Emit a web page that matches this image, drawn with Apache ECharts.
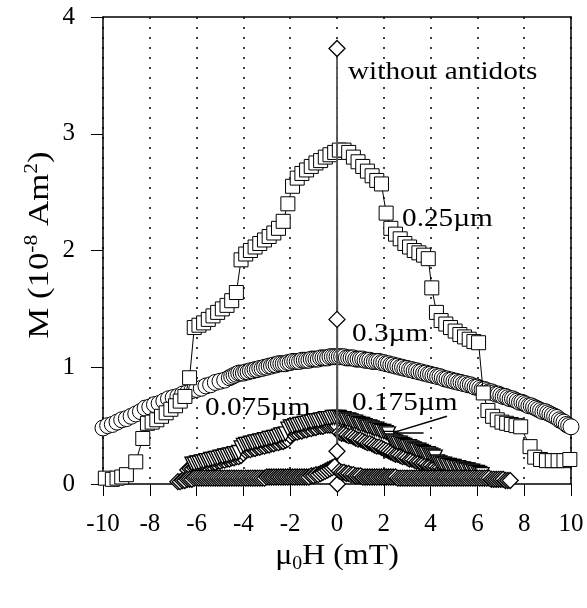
<!DOCTYPE html>
<html>
<head>
<meta charset="utf-8">
<script src="https://cdn.jsdelivr.net/npm/echarts@6/dist/echarts.min.js"></script>
<style>
  html, body { margin: 0; padding: 0; background: #fff; }
  #chart { width: 587px; height: 608px; }
</style>
</head>
<body>
<div id="chart"></div>
<script>
// field ticks / moment ticks
const xTicks = [-10, -8, -6, -4, -2, 0, 2, 4, 6, 8, 10];
const yTicks = [0, 1, 2, 3, 4];

// 0.25 um antidots (open squares)
const sq025 = [
  [-9.9,0.05],[-9.6,0.04],[-9.4,0.05],[-9.2,0.06],[-9.0,0.08],[-8.6,0.19],[-8.3,0.39],[-8.1,0.52],
  [-7.9,0.53],[-7.7,0.55],[-7.5,0.58],[-7.3,0.61],[-7.1,0.64],[-6.9,0.67],[-6.7,0.71],[-6.5,0.75],
  [-6.3,0.91],[-6.1,1.34],[-5.9,1.36],[-5.7,1.38],[-5.5,1.41],[-5.3,1.44],[-5.1,1.47],[-4.9,1.50],
  [-4.7,1.53],[-4.5,1.57],[-4.3,1.64],[-4.1,1.92],[-3.9,1.97],[-3.7,2.00],[-3.5,2.03],[-3.3,2.06],
  [-3.1,2.09],[-2.9,2.12],[-2.7,2.15],[-2.5,2.19],[-2.3,2.25],[-2.1,2.40],[-1.9,2.55],[-1.7,2.62],
  [-1.5,2.66],[-1.3,2.69],[-1.1,2.72],[-0.9,2.75],[-0.7,2.77],[-0.5,2.80],[-0.3,2.82],[-0.1,2.84],
  [0.1,2.86],[0.3,2.86],[0.5,2.84],[0.7,2.80],[0.9,2.76],[1.1,2.72],[1.3,2.68],[1.5,2.64],
  [1.7,2.60],[1.9,2.57],[2.1,2.32],[2.3,2.19],[2.5,2.14],[2.7,2.10],[2.9,2.06],[3.1,2.03],
  [3.3,2.00],[3.5,1.98],[3.7,1.96],[3.9,1.93],[4.05,1.68],[4.25,1.47],[4.45,1.40],[4.65,1.37],
  [4.85,1.34],[5.05,1.31],[5.25,1.28],[5.45,1.26],[5.65,1.24],[5.85,1.22],[6.05,1.21],[6.25,0.78],
  [6.45,0.63],[6.65,0.58],[6.85,0.55],[7.05,0.53],[7.25,0.52],[7.45,0.51],[7.65,0.50],[7.85,0.49],
  [8.25,0.32],[8.45,0.23],[8.7,0.21],[8.95,0.20],[9.2,0.20],[9.45,0.20],[9.7,0.20],[9.95,0.21]
];

// 0.3 um antidots (open circles)
const ci03 = [
  [-10.0,0.48],[-9.8,0.50],[-9.6,0.51],[-9.4,0.53],[-9.2,0.55],[-9.0,0.56],[-8.8,0.58],[-8.6,0.60],
  [-8.4,0.62],[-8.2,0.65],[-8.0,0.66],[-7.8,0.68],[-7.6,0.69],[-7.4,0.71],[-7.2,0.73],[-7.0,0.74],
  [-6.8,0.75],[-6.6,0.77],[-6.4,0.78],[-6.2,0.80],[-6.0,0.81],[-5.8,0.82],[-5.6,0.84],[-5.4,0.85],
  [-5.2,0.87],[-5.0,0.88],[-4.8,0.89],
  [-4.6,0.91],[-4.5,0.92],[-4.4,0.93],[-4.3,0.94],[-4.2,0.95],[-4.1,0.95],[-4.0,0.95],[-3.9,0.96],
  [-3.8,0.96],[-3.7,0.97],[-3.6,0.97],[-3.5,0.98],[-3.4,0.98],[-3.3,0.99],[-3.2,0.99],[-3.1,1.00],
  [-3.0,1.00],[-2.9,1.01],[-2.8,1.01],[-2.7,1.02],[-2.6,1.02],[-2.5,1.03],[-2.4,1.03],[-2.3,1.03],
  [-2.2,1.03],[-2.1,1.04],[-2.0,1.04],[-1.9,1.05],[-1.8,1.05],[-1.7,1.05],[-1.6,1.05],[-1.5,1.06],
  [-1.4,1.06],[-1.3,1.06],[-1.2,1.06],[-1.1,1.07],[-1.0,1.07],[-0.9,1.07],[-0.8,1.07],[-0.7,1.08],
  [-0.6,1.08],[-0.5,1.08],[-0.4,1.08],[-0.3,1.09],[-0.2,1.09],[-0.1,1.09],
  [0.0,1.09],[0.1,1.09],[0.2,1.09],[0.3,1.09],[0.4,1.08],[0.5,1.08],[0.6,1.08],[0.7,1.08],
  [0.8,1.07],[0.9,1.07],[1.0,1.07],[1.1,1.07],[1.2,1.06],[1.3,1.06],[1.4,1.06],[1.5,1.05],
  [1.6,1.05],[1.7,1.05],[1.8,1.05],[1.9,1.04],[2.0,1.04],[2.1,1.03],[2.2,1.03],[2.3,1.02],
  [2.4,1.02],[2.5,1.01],[2.6,1.01],[2.7,1.00],[2.8,1.00],[2.9,0.99],[3.0,0.99],[3.1,0.98],
  [3.2,0.98],[3.3,0.97],[3.4,0.97],[3.5,0.96],[3.6,0.96],[3.7,0.95],[3.8,0.95],[3.9,0.94],
  [4.0,0.94],[4.1,0.93],[4.2,0.93],[4.3,0.92],[4.4,0.92],[4.5,0.91],[4.6,0.90],[4.7,0.90],
  [4.8,0.89],[4.9,0.89],[5.0,0.88],[5.1,0.88],[5.2,0.87],[5.3,0.87],[5.4,0.86],[5.5,0.86],
  [5.6,0.85],[5.7,0.85],[5.8,0.84],[5.9,0.83],[6.0,0.83],[6.1,0.82],[6.2,0.81],[6.3,0.81],
  [6.4,0.80],[6.5,0.79],[6.6,0.79],[6.7,0.78],[6.8,0.77],[6.9,0.77],[7.0,0.76],[7.1,0.75],
  [7.2,0.75],[7.3,0.74],[7.4,0.73],[7.5,0.73],[7.6,0.72],[7.7,0.71],[7.8,0.70],[7.9,0.70],
  [8.0,0.69],[8.1,0.68],[8.2,0.67],[8.3,0.67],[8.4,0.66],[8.5,0.65],[8.6,0.64],[8.7,0.63],
  [8.8,0.62],[8.9,0.62],[9.0,0.61],[9.1,0.60],[9.2,0.59],[9.3,0.58],[9.4,0.57],[9.5,0.55],
  [9.6,0.54],[9.7,0.53],[9.8,0.51],[9.9,0.50],[10.0,0.49]
];

// 0.075 um antidots (down triangles)
const tr075 = [
  [-6.2,0.17],[-6.1,0.17],[-6.0,0.18],[-5.9,0.18],[-5.8,0.19],[-5.7,0.19],[-5.6,0.20],[-5.5,0.20],
  [-5.4,0.21],[-5.3,0.21],[-5.2,0.22],[-5.1,0.22],[-5.0,0.23],[-4.9,0.23],[-4.8,0.24],[-4.7,0.24],
  [-4.6,0.25],[-4.5,0.25],[-4.4,0.26],[-4.3,0.26],[-4.2,0.27],[-4.1,0.31],[-4.0,0.33],[-3.9,0.34],
  [-3.8,0.34],[-3.7,0.35],[-3.6,0.35],[-3.5,0.36],[-3.4,0.36],[-3.3,0.37],[-3.2,0.37],[-3.1,0.38],
  [-3.0,0.38],[-2.9,0.39],[-2.8,0.39],[-2.7,0.40],[-2.6,0.40],[-2.5,0.41],[-2.4,0.42],[-2.3,0.42],
  [-2.2,0.43],[-2.1,0.47],[-2.0,0.49],[-1.9,0.49],[-1.8,0.50],[-1.7,0.50],[-1.6,0.51],[-1.5,0.51],
  [-1.4,0.52],[-1.3,0.52],[-1.2,0.53],[-1.1,0.53],[-1.0,0.54],[-0.9,0.54],[-0.8,0.54],[-0.7,0.55],
  [-0.6,0.55],[-0.5,0.56],[-0.4,0.56],[-0.3,0.56],[-0.2,0.57],[-0.1,0.57],[0.0,0.57],[0.1,0.57],
  [0.2,0.56],[0.3,0.56],[0.4,0.55],[0.5,0.55],[0.6,0.54],[0.7,0.53],[0.8,0.53],[0.9,0.52],
  [1.0,0.51],[1.1,0.51],[1.2,0.50],[1.3,0.49],[1.4,0.49],[1.5,0.48],[1.6,0.47],[1.7,0.47],
  [1.8,0.46],[1.9,0.45],[2.0,0.45],[2.1,0.44],[2.2,0.43],[2.3,0.39],[2.4,0.37],[2.5,0.36],
  [2.6,0.35],[2.7,0.35],[2.8,0.34],[2.9,0.33],[3.0,0.32],[3.1,0.32],[3.2,0.31],[3.3,0.30],
  [3.4,0.29],[3.5,0.29],[3.6,0.28],[3.7,0.27],[3.8,0.26],[3.9,0.26],[4.0,0.25],[4.1,0.24],
  [4.2,0.23],[4.3,0.19],[4.4,0.18],[4.5,0.17],[4.6,0.17],[4.7,0.16],[4.8,0.16],[4.9,0.15],
  [5.0,0.15],[5.1,0.14],[5.2,0.14],[5.3,0.13],[5.4,0.13],[5.5,0.12],[5.6,0.12],[5.7,0.11],
  [5.8,0.11],[5.9,0.10],[6.0,0.10],[6.1,0.09],[6.2,0.08]
];

// 0.175 um antidots (diamonds)
const di175 = [
  [-6.4,0.12],[-6.3,0.13],[-6.2,0.13],[-6.1,0.14],[-6.0,0.14],[-5.9,0.15],[-5.8,0.15],[-5.7,0.16],
  [-5.6,0.16],[-5.5,0.17],[-5.4,0.17],[-5.3,0.18],[-5.2,0.18],[-5.1,0.19],[-5.0,0.19],[-4.9,0.20],
  [-4.8,0.20],[-4.7,0.21],[-4.6,0.21],[-4.5,0.22],[-4.4,0.22],[-4.3,0.23],[-4.2,0.23],[-4.1,0.24],
  [-4.0,0.26],[-3.9,0.28],[-3.8,0.29],[-3.7,0.29],[-3.6,0.30],[-3.5,0.30],[-3.4,0.31],[-3.3,0.31],
  [-3.2,0.32],[-3.1,0.32],[-3.0,0.33],[-2.9,0.33],[-2.8,0.34],[-2.7,0.34],[-2.6,0.35],[-2.5,0.35],
  [-2.4,0.36],[-2.3,0.36],[-2.2,0.37],[-2.1,0.38],[-2.0,0.41],[-1.9,0.43],[-1.8,0.44],[-1.7,0.44],
  [-1.6,0.45],[-1.5,0.45],[-1.4,0.46],[-1.3,0.46],[-1.2,0.47],[-1.1,0.47],[-1.0,0.48],[-0.9,0.48],
  [-0.8,0.49],[-0.7,0.49],[-0.6,0.49],[-0.5,0.50],[-0.4,0.50],[-0.3,0.50],[-0.2,0.50],[-0.1,0.50],
  [0.0,0.50],[0.1,0.44],[0.2,0.43],[0.3,0.43],[0.4,0.42],[0.5,0.41],[0.6,0.41],[0.7,0.40],
  [0.8,0.39],[0.9,0.38],[1.0,0.38],[1.1,0.37],[1.2,0.36],[1.3,0.35],[1.4,0.35],[1.5,0.34],
  [1.6,0.33],[1.7,0.32],[1.8,0.32],[1.9,0.31],[2.0,0.30],[2.1,0.29],[2.2,0.28],[2.3,0.27],
  [2.4,0.26],[2.5,0.25],[2.6,0.25],[2.7,0.24],[2.8,0.23],[2.9,0.23],[3.0,0.22],[3.1,0.21],
  [3.2,0.21],[3.3,0.20],[3.4,0.19],[3.5,0.19],[3.6,0.18],[3.7,0.18],[3.8,0.17],[3.9,0.16],
  [4.0,0.16],[4.1,0.15],[4.2,0.15],[4.3,0.14],[4.4,0.14],[4.5,0.13],[4.6,0.13],[4.7,0.12],
  [4.8,0.12],[4.9,0.11],[5.0,0.11],[5.1,0.10],[5.2,0.10],[5.3,0.09],[5.4,0.09],[5.5,0.08],
  [5.6,0.08],[5.7,0.07],[5.8,0.07],[5.9,0.06],[6.0,0.06],[6.1,0.06],[6.2,0.05],[6.3,0.05]
];

// without antidots (diamonds, sharp switching at 0)
const noDots = [
  [-6.8,0.02],[-6.7,0.02],[-6.6,0.03],[-6.5,0.03],[-6.4,0.04],[-6.3,0.04],[-6.2,0.04],[-6.1,0.05],
  [-6.0,0.05],[-5.9,0.05],[-5.8,0.05],[-5.7,0.05],[-5.6,0.05],[-5.5,0.05],[-5.4,0.05],[-5.3,0.05],
  [-5.2,0.05],[-5.1,0.05],[-5.0,0.05],[-4.9,0.05],[-4.8,0.05],[-4.7,0.05],[-4.6,0.05],[-4.5,0.05],
  [-4.4,0.05],[-4.3,0.05],[-4.2,0.05],[-4.1,0.05],[-4.0,0.05],[-3.9,0.05],[-3.8,0.05],[-3.7,0.05],
  [-3.6,0.05],[-3.5,0.05],[-3.4,0.05],[-3.3,0.05],[-3.2,0.05],[-3.1,0.05],[-3.0,0.06],[-2.9,0.06],
  [-2.8,0.06],[-2.7,0.06],[-2.6,0.06],[-2.5,0.06],[-2.4,0.06],[-2.3,0.06],[-2.2,0.06],[-2.1,0.06],
  [-2.0,0.06],[-1.9,0.06],[-1.8,0.06],[-1.7,0.06],[-1.6,0.06],[-1.5,0.06],[-1.4,0.06],[-1.3,0.06],
  [-1.2,0.06],[-1.1,0.07],[-1.0,0.07],[-0.9,0.08],[-0.8,0.08],[-0.7,0.09],[-0.6,0.10],[-0.5,0.11],
  [-0.4,0.12],[-0.3,0.13],[-0.2,0.14],[-0.1,0.15],[0.0,0.28],[0.0,1.41],[0.0,3.73],[0.02,0.0],
  [0.1,0.11],[0.2,0.10],[0.3,0.10],[0.4,0.09],[0.5,0.09],[0.6,0.08],[0.7,0.08],[0.8,0.07],
  [0.9,0.07],[1.0,0.07],[1.1,0.06],[1.2,0.06],[1.3,0.06],[1.4,0.06],[1.5,0.06],[1.6,0.06],
  [1.7,0.06],[1.8,0.06],[1.9,0.06],[2.0,0.06],[2.1,0.06],[2.2,0.06],[2.3,0.06],[2.4,0.06],
  [2.5,0.06],[2.6,0.05],[2.7,0.05],[2.8,0.05],[2.9,0.05],[3.0,0.05],[3.1,0.05],[3.2,0.05],
  [3.3,0.05],[3.4,0.05],[3.5,0.05],[3.6,0.05],[3.7,0.05],[3.8,0.05],[3.9,0.05],[4.0,0.05],
  [4.1,0.05],[4.2,0.05],[4.3,0.05],[4.4,0.05],[4.5,0.05],[4.6,0.05],[4.7,0.05],[4.8,0.05],
  [4.9,0.05],[5.0,0.05],[5.1,0.05],[5.2,0.05],[5.3,0.05],[5.4,0.05],[5.5,0.05],[5.6,0.05],
  [5.7,0.05],[5.8,0.05],[5.9,0.05],[6.0,0.05],[6.1,0.05],[6.2,0.05],[6.3,0.05],[6.4,0.05],
  [6.5,0.05],[6.6,0.04],[6.7,0.04],[6.8,0.04],[6.9,0.04],[7.0,0.04],[7.1,0.04],[7.2,0.03],
  [7.3,0.03],[7.4,0.03]
];

// pointer lines of the 0.175 label
const pointer175 = [
  [[2.4,0.44],[4.7,0.58]],
  [[2.4,0.44],[3.7,0.44]]
];

const FONT = "Liberation Serif";
const chart = echarts.init(document.getElementById("chart"), null, { renderer: "canvas" });

const markerStyle = { color: "#fff", borderColor: "#000", borderWidth: 1 };
const denseStyle = { color: "#fff", borderColor: "#000", borderWidth: 1.3 };
const boxAxis = {
  axisLine: { onZero: false, lineStyle: { color: "#000", width: 1.5 } },
  axisTick: { show: false }, axisLabel: { show: false }, splitLine: { show: false }
};

function label(text, x, y) {
  return {
    type: "text", x, y, scaleX: 1.17, z: 100,
    style: { text, fontFamily: FONT, fontSize: 25, fill: "#000", align: "left", verticalAlign: "middle" }
  };
}

const option = {
  animation: false,
  backgroundColor: "#fff",
  grid: { left: 103, right: 16, top: 17, bottom: 124 },
  xAxis: [
    {
      type: "value",
      min: xTicks[0],
      max: xTicks[xTicks.length - 1],
      interval: 2,
      axisLine: { onZero: false, lineStyle: { color: "#000", width: 1.5 } },
      axisTick: { length: 12, lineStyle: { color: "#000", width: 1 } },
      axisLabel: { fontFamily: FONT, fontSize: 25, color: "#000", margin: 28 },
      splitLine: { show: true, lineStyle: { color: "#000", type: [2, 8], width: 1.5 } }
    },
    Object.assign({ type: "value", position: "top", min: -10, max: 10 }, boxAxis)
  ],
  yAxis: [
    {
      type: "value",
      min: yTicks[0],
      max: yTicks[yTicks.length - 1],
      interval: 1,
      axisLine: { onZero: false, lineStyle: { color: "#000", width: 1.5 } },
      axisTick: { length: 12, lineStyle: { color: "#000", width: 1 } },
      axisLabel: { fontFamily: FONT, fontSize: 25, color: "#000", margin: 28 },
      splitLine: { show: false }
    },
    Object.assign({ type: "value", position: "right", min: 0, max: 4 }, boxAxis)
  ],
  series: [
    {
      name: "0.3µm", type: "line", data: ci03,
      symbol: "circle", symbolSize: 16, showAllSymbol: true,
      itemStyle: markerStyle, lineStyle: { color: "#000", width: 1 }, z: 2
    },
    {
      name: "0.175µm", type: "line", data: di175,
      symbol: "diamond", symbolSize: 15, showAllSymbol: true,
      itemStyle: denseStyle, lineStyle: { color: "#000", width: 1 }, z: 3,
      markLine: {
        silent: true, symbol: "none", label: { show: false },
        lineStyle: { color: "#000", width: 1.5, type: "solid" },
        data: pointer175.map(([a, b]) => [{ coord: a }, { coord: b }])
      }
    },
    {
      name: "0.075µm", type: "line", data: tr075,
      symbol: "triangle", symbolRotate: 180, symbolSize: 14, showAllSymbol: true,
      itemStyle: denseStyle, lineStyle: { color: "#000", width: 1 }, z: 4
    },
    {
      name: "0.25µm", type: "line", data: sq025,
      symbol: "rect", symbolSize: 14, showAllSymbol: true,
      itemStyle: markerStyle, lineStyle: { color: "#000", width: 1 }, z: 5
    },
    {
      name: "without antidots", type: "line", data: noDots,
      symbol: "diamond", symbolSize: 16, showAllSymbol: true,
      itemStyle: denseStyle, lineStyle: { color: "#555", width: 1.8 }, z: 6
    }
  ],
  graphic: [
    label("without antidots", 348, 72),
    label("0.25µm", 402, 219),
    label("0.3µm", 352, 334),
    label("0.175µm", 352, 403),
    label("0.075µm", 205, 408),
    {
      // x axis title
      type: "text", x: 337, y: 556, scaleX: 1.1, z: 100,
      style: {
        text: "{a|μ}{b|0}{a|H (mT)}", align: "center", verticalAlign: "middle", fill: "#000",
        rich: {
          a: { fontFamily: FONT, fontSize: 29, lineHeight: 34, fill: "#000" },
          b: { fontFamily: FONT, fontSize: 18, lineHeight: 14, verticalAlign: "bottom", fill: "#000" }
        }
      }
    },
    {
      // y axis title
      type: "text", x: 40, y: 245, rotation: Math.PI / 2, scaleX: 1.2, z: 100,
      style: {
        text: "{a|M (10}{s|-8}{a| Am}{s|2}{a|)}", align: "center", verticalAlign: "middle", fill: "#000",
        rich: {
          a: { fontFamily: FONT, fontSize: 29, lineHeight: 34, fill: "#000" },
          s: { fontFamily: FONT, fontSize: 18, lineHeight: 14, verticalAlign: "top", fill: "#000" }
        }
      }
    }
  ]
};

chart.setOption(option);
</script>
</body>
</html>
